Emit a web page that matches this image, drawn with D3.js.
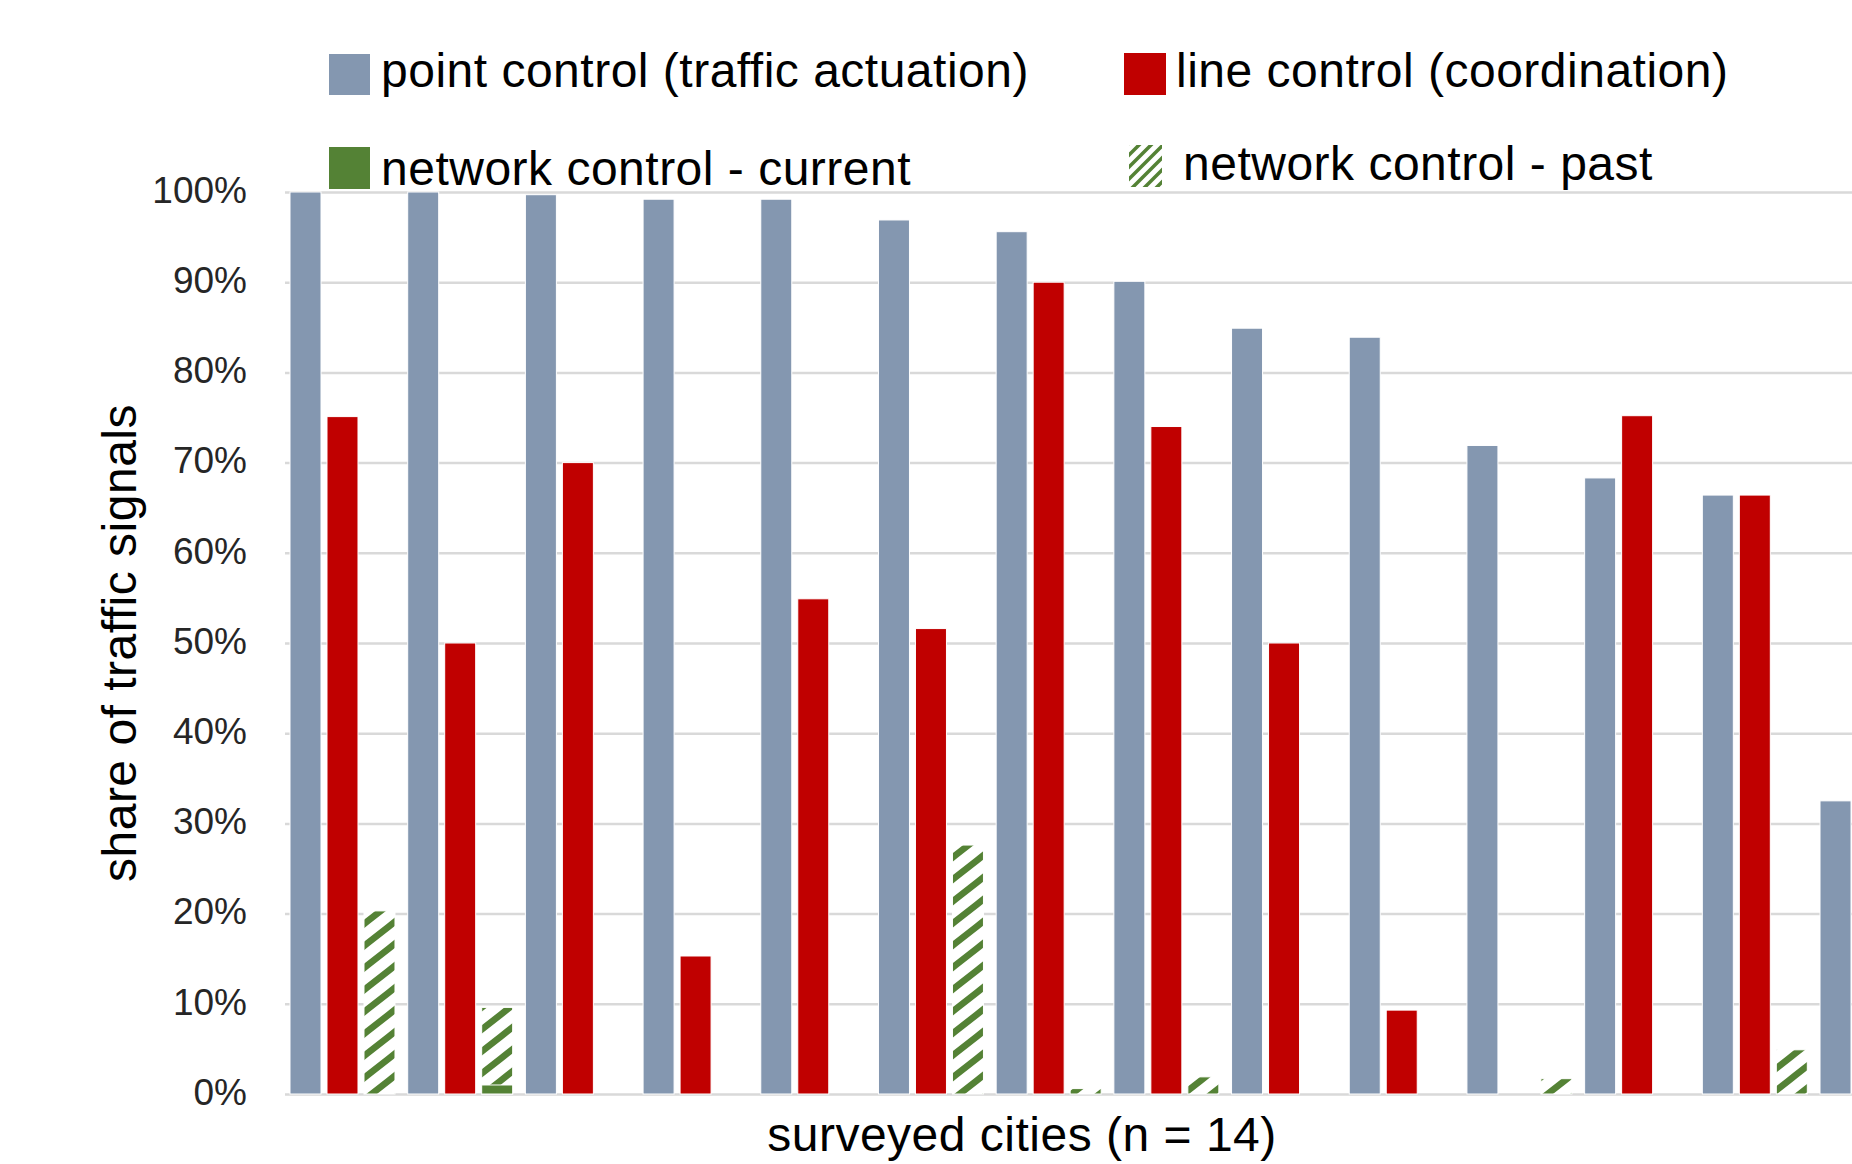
<!DOCTYPE html>
<html>
<head>
<meta charset="utf-8">
<script src="https://cdn.jsdelivr.net/npm/d3@7"></script>
<style>
  html, body { margin: 0; padding: 0; background: #fff; overflow: hidden; }
  svg { display: block; }
  text { font-family: "Liberation Sans", Arial, Helvetica, sans-serif; }
</style>
</head>
<body>
<svg id="chart" width="1852" height="1164"></svg>
<script>
// ---- data ----
const cities = ["C1","C2","C3","C4","C5","C6","C7","C8","C9","C10","C11","C12","C13","C14"];
const pointControl   = [100, 100, 99.7, 99.2, 99.2, 96.9, 95.6, 90.1, 84.9, 83.9, 71.9, 68.3, 66.4, 32.5];
const lineControl    = [75.1, 50, 70, 15.3, 54.9, 51.6, 90, 74, 50, 9.3, 0, 75.2, 66.4, null];
const networkCurrent = [0, 1, 0, 0, 0, 0, 0, 0, 0, 0, 0, 0, 0, null];
const networkPast    = [20.3, 9.6, 0, 0, 0, 27.6, 0.6, 1.9, 0, 0, 1.7, 0, 4.9, null];
const yTicks = [0, 10, 20, 30, 40, 50, 60, 70, 80, 90, 100];
const slots = ["point", "line", "network"];
const legendLabels = {
  point: "point control (traffic actuation)",
  line: "line control (coordination)",
  current: "network control - current",
  past: "network control - past"
};

// ---- styles ----
const C_BLUE = "#8497B0", C_RED = "#C00000", C_GREEN = "#548235", C_GRID = "#D9D9D9";

const W = 1852, H = 1164;
const svg = d3.select("#chart");

const defs = svg.append("defs");
const pat = defs.append("pattern")
  .attr("id", "hatch").attr("patternUnits", "userSpaceOnUse")
  .attr("width", 28).attr("height", 22);
pat.append("rect").attr("width", 28).attr("height", 22).attr("fill", "#fff");
pat.append("path")
  .attr("d", "M-7,5.5 L7,-5.5 M0,22 L28,0 M21,27.5 L35,16.5")
  .attr("stroke", C_GREEN).attr("stroke-width", 6.5).attr("fill", "none");

const patS = defs.append("pattern")
  .attr("id", "hatchSmall").attr("patternUnits", "userSpaceOnUse")
  .attr("width", 12).attr("height", 12);
patS.append("rect").attr("width", 12).attr("height", 12).attr("fill", "#fff");
patS.append("path")
  .attr("d", "M-3,3 L3,-3 M0,12 L12,0 M9,15 L15,9")
  .attr("stroke", C_GREEN).attr("stroke-width", 3.5).attr("fill", "none");

// ---- scales ----
const y = d3.scaleLinear().domain([0, 100]).range([1094, 192]);
const x0 = d3.scaleBand().domain(cities).range([287, 1928])
  .paddingInner(0.108).paddingOuter(0.0255);
const x1 = d3.scaleBand().domain(slots).range([0, x0.bandwidth()])
  .paddingInner(0.162).paddingOuter(0);

// ---- gridlines + y labels ----
const gAxis = svg.append("g").attr("transform", "translate(285,0)")
  .call(d3.axisLeft(y).tickValues(yTicks).tickSize(-(W - 285)).tickPadding(38)
    .tickFormat(d => d + "%"));
gAxis.select(".domain").remove();
gAxis.selectAll(".tick line").attr("stroke", C_GRID).attr("stroke-width", 2.5);
gAxis.selectAll(".tick text")
  .attr("font-size", 37).attr("fill", "#262626").attr("dy", "0.28em")
  .style("font-family", "'Liberation Sans', Arial, sans-serif");

// ---- bars ----
const plot = svg.append("g");
function drawSeries(values, slot, fill) {
  const data = cities.map((c, i) => ({ c, v: values[i] })).filter(d => d.v != null && d.v > 0);
  plot.append("g").selectAll("rect").data(data).join("rect")
    .attr("x", d => x0(d.c) + x1(slot))
    .attr("width", x1.bandwidth())
    .attr("y", d => y(d.v))
    .attr("height", d => y(0) - y(d.v))
    .attr("fill", fill)
    .attr("stroke", "#fff").attr("stroke-width", 1);
}
drawSeries(pointControl, "point", C_BLUE);
drawSeries(lineControl, "line", C_RED);
drawSeries(networkPast, "network", "url(#hatch)");
drawSeries(networkCurrent, "network", C_GREEN);

// ---- legend ----
const leg = svg.append("g").attr("font-size", 48).attr("fill", "#000")
  .attr("letter-spacing", "0.5px");
const legendItems = [
  { key: "point",   fill: C_BLUE,             sx: 329,  sy: 54,  sw: 41, sh: 41, tx: 381,  ty: 87 },
  { key: "line",    fill: C_RED,              sx: 1124, sy: 53,  sw: 42, sh: 42, tx: 1176, ty: 87 },
  { key: "current", fill: C_GREEN,            sx: 329,  sy: 147, sw: 41, sh: 42, tx: 381,  ty: 185 },
  { key: "past",    fill: "url(#hatchSmall)", sx: 1129, sy: 145, sw: 33, sh: 42, tx: 1183, ty: 180 }
];
legendItems.forEach(it => {
  leg.append("rect").attr("x", it.sx).attr("y", it.sy).attr("width", it.sw).attr("height", it.sh)
    .attr("fill", it.fill);
  leg.append("text").attr("x", it.tx).attr("y", it.ty).text(legendLabels[it.key]);
});

// ---- axis titles ----
svg.append("text")
  .attr("transform", "translate(136,643) rotate(-90)")
  .attr("text-anchor", "middle").attr("font-size", 48).attr("fill", "#000")
  .attr("letter-spacing", "0.5px")
  .text("share of traffic signals");
svg.append("text")
  .attr("x", 1022).attr("y", 1151)
  .attr("text-anchor", "middle").attr("font-size", 48).attr("fill", "#000")
  .attr("letter-spacing", "0.5px")
  .text("surveyed cities (n = 14)");
</script>
</body>
</html>
